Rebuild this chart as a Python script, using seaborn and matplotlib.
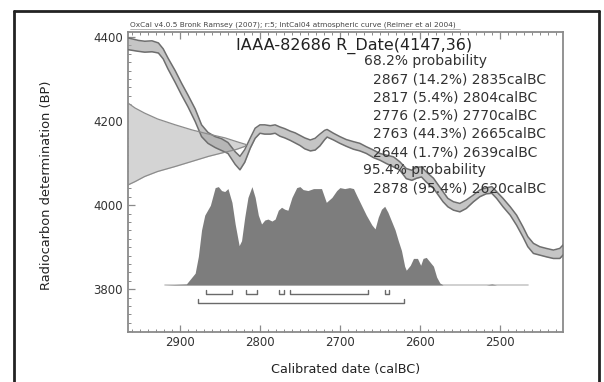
import numpy as np
import pandas as pd
import matplotlib
matplotlib.use("Agg")
import matplotlib.pyplot as plt
import seaborn as sns
from matplotlib.lines import Line2D
from matplotlib.ticker import MultipleLocator

# ---- IntCal04 calibration curve (calBC, BP, 1-sigma) ----
cal_year = [2965, 2952, 2944, 2935, 2927, 2921, 2915, 2906, 2898, 2890, 2881, 2873,
            2865, 2856, 2848, 2840, 2831, 2825, 2819, 2812, 2806, 2800, 2794, 2787,
            2781, 2775, 2769, 2762, 2756, 2750, 2744, 2737, 2731, 2725, 2719, 2716,
            2708, 2700, 2692, 2683, 2675, 2667, 2658, 2650, 2642, 2633, 2625, 2617,
            2610, 2604, 2598, 2592, 2583, 2577, 2571, 2565, 2558, 2550, 2542, 2533,
            2525, 2517, 2510, 2504, 2496, 2487, 2479, 2471, 2465, 2458, 2450, 2442,
            2433, 2425, 2419]
cal_bp = [4384, 4379, 4377, 4378, 4374, 4360, 4337, 4306, 4276, 4248, 4214, 4177,
          4160, 4150, 4144, 4136, 4112, 4100, 4117, 4148, 4171, 4181, 4180, 4179,
          4181, 4175, 4171, 4165, 4160, 4154, 4147, 4142, 4145, 4155, 4167, 4171,
          4163, 4155, 4148, 4142, 4138, 4131, 4122, 4115, 4109, 4103, 4093, 4075,
          4071, 4077, 4079, 4067, 4052, 4036, 4020, 4006, 3998, 3994, 4002, 4016,
          4028, 4034, 4036, 4024, 4006, 3986, 3964, 3936, 3913, 3897, 3891, 3887,
          3883, 3885, 3897]
cal_err = [14, 13, 13, 13, 12, 12, 13, 14, 14, 14, 15, 14,
           13, 13, 14, 13, 15, 16, 15, 12, 12, 10, 11, 10,
           10, 11, 11, 11, 12, 12, 13, 13, 14, 14, 11, 9,
           8, 8, 8, 9, 9, 8, 9, 8, 10, 12, 10, 12,
           12, 13, 12, 12, 12, 12, 12, 10, 10, 10, 10, 8,
           8, 7, 8, 8, 10, 10, 12, 12, 12, 12, 10, 10,
           10, 12, 12]

# ---- measured radiocarbon date R_Date(4147,36): relative probability ----
gauss_bp = [4243, 4231, 4219, 4205, 4191, 4179, 4169, 4160, 4150, 4144,
            4140, 4132, 4126, 4116, 4104, 4092, 4080, 4068, 4056, 4048]
gauss_prob = [0.0, 0.06, 0.14, 0.25, 0.40, 0.54, 0.68, 0.82, 0.93, 1.0,
              0.99, 0.91, 0.82, 0.68, 0.54, 0.40, 0.25, 0.14, 0.06, 0.0]

# ---- calibrated date distribution (relative probability) ----
post_year = [2919, 2892, 2881, 2877, 2873, 2869, 2862, 2856, 2852, 2848, 2844, 2840,
             2835, 2831, 2826, 2823, 2819, 2815, 2810, 2806, 2802, 2798, 2794, 2790,
             2785, 2781, 2777, 2773, 2769, 2765, 2760, 2754, 2750, 2746, 2740, 2733,
             2723, 2717, 2710, 2704, 2700, 2694, 2688, 2683, 2679, 2673, 2667, 2660,
             2656, 2652, 2648, 2644, 2640, 2635, 2631, 2627, 2623, 2619, 2617, 2612,
             2608, 2603, 2599, 2596, 2592, 2588, 2583, 2579, 2575, 2571, 2517, 2510,
             2504, 2465]
post_prob = [0.0, 0.01, 0.12, 0.29, 0.56, 0.71, 0.81, 0.99, 1.0, 0.96, 0.95, 0.98,
             0.84, 0.62, 0.40, 0.45, 0.69, 0.89, 1.0, 0.89, 0.71, 0.62, 0.66, 0.67,
             0.65, 0.67, 0.76, 0.79, 0.77, 0.76, 0.89, 0.99, 1.0, 0.97, 0.96, 0.98,
             0.98, 0.84, 0.89, 0.96, 0.99, 0.98, 0.99, 0.98, 0.91, 0.81, 0.71, 0.61,
             0.57, 0.69, 0.77, 0.80, 0.74, 0.64, 0.56, 0.45, 0.35, 0.19, 0.15, 0.20,
             0.27, 0.27, 0.20, 0.27, 0.28, 0.24, 0.19, 0.08, 0.02, 0.0, 0.0, 0.01,
             0.0, 0.0]

# ---- calibrated ranges (from, to, %) ----
range68 = [(2867, 2835, 14.2), (2817, 2804, 5.4), (2776, 2770, 2.5),
           (2763, 2665, 44.3), (2644, 2639, 1.7)]
range95 = [(2878, 2620, 95.4)]

x_ticks = [2900, 2800, 2700, 2600, 2500]
y_ticks = [3800, 4000, 4200, 4400]

title = "IAAA-82686 R_Date(4147,36)"
header = "OxCal v4.0.5 Bronk Ramsey (2007); r:5; IntCal04 atmospheric curve (Reimer et al 2004)"

sns.set_theme(style="white")
plt.rcParams['font.family'] = ['DejaVu Sans']

W, H = 604, 382
fig = plt.figure(figsize=(W / 100, H / 100), dpi=100)
fig.patch.set_facecolor("white")


def fx(px):
    return px / W


def fy(py):
    return 1 - py / H


ax = fig.add_axes([fx(128), fy(332), (563 - 128) / W, 300 / H])
ax.set_facecolor("white")
XL, XR = 2965, 2421
ax.set_xlim(XL, XR)
ax.set_ylim(3698, 4412)

# measured date on the y axis
g = pd.DataFrame({"bp": gauss_bp, "p": gauss_prob})
g["x"] = XL - g["p"] * 148
ax.fill_betweenx(g["bp"], XL, g["x"], color="#d4d4d4", lw=0, zorder=1)
ax.plot(g["x"], g["bp"], color="#8c8c8c", lw=0.9, zorder=4)

# calibration curve band
c = pd.DataFrame({"year": cal_year, "bp": cal_bp, "err": cal_err})
c["lo"] = c["bp"] - c["err"]
c["hi"] = c["bp"] + c["err"]
ax.fill_between(c["year"], c["lo"], c["hi"], color="#a6a6a6", alpha=0.65, lw=0, zorder=2)
sns.lineplot(data=c, x="year", y="lo", ax=ax, color="#6e6e6e", lw=1.1, zorder=3)
sns.lineplot(data=c, x="year", y="hi", ax=ax, color="#6e6e6e", lw=1.1, zorder=3)

# calibrated distribution
base, scale = 3810, 234
p = pd.DataFrame({"year": post_year, "p": post_prob})
p["top"] = base + p["p"] * scale
ax.plot(p["year"], [base] * len(p), color="#c8c8c8", lw=1.2, zorder=2)
ax.fill_between(p["year"], base, p["top"], color="#7d7d7d", lw=0, zorder=3)

# range brackets
for (s, e, _) in range68:
    ax.plot([s, s, e, e], [3798, 3788, 3788, 3798], color="#6a6a6a", lw=1.0, zorder=3)
for (s, e, _) in range95:
    ax.plot([s, s, e, e], [3776, 3766, 3766, 3776], color="#6a6a6a", lw=1.0, zorder=3)

# axes styling
ax.set_xticks(x_ticks)
ax.set_yticks(y_ticks)
ax.xaxis.set_minor_locator(MultipleLocator(10))
ax.yaxis.set_minor_locator(MultipleLocator(20))
ax.tick_params(axis="both", which="both", direction="in", colors="#8a8a8a",
               labelcolor="#333333", labelsize=8.5)
ax.tick_params(axis="x", which="both", top=True, bottom=True, pad=3)
ax.tick_params(axis="y", which="both", left=True, right=False, pad=3.5)
ax.tick_params(which="major", length=5, width=0.9)
ax.tick_params(which="minor", length=2.5, width=0.7)
for s in ax.spines.values():
    s.set_color("#8a8a8a")
    s.set_linewidth(1.3)
ax.set_xlabel("")
ax.set_ylabel("")
ax.grid(False)

# texts
fig.text(fx(354), fy(50), title, ha="center", va="baseline", fontsize=11.5, color="#222222")
fig.text(fx(130), fy(27), header, ha="left", va="baseline", fontsize=5.3, color="#444444")
fig.add_artist(Line2D([fx(130), fx(460)], [fy(28.5), fy(28.5)], color="#999999", lw=0.5))

lines = [("68.2% probability", 364)]
for (s, e, pc) in range68:
    lines.append((f"{s} ({pc}%) {e}calBC", 373))
lines.append(("95.4% probability", 363))
for (s, e, pc) in range95:
    lines.append((f"{s} ({pc}%) {e}calBC", 373))
for i, (t, xpx) in enumerate(lines):
    fig.text(fx(xpx), fy(61 + i * 18.2), t, ha="left", va="center", fontsize=10, color="#333333")

fig.text(fx(47), fy(185), "Radiocarbon determination (BP)", rotation=90,
         ha="center", va="center", fontsize=9.4, color="#222222")
fig.text(fx(346), fy(370), "Calibrated date (calBC)", ha="center", va="center",
         fontsize=9.2, color="#222222")

# outer frame
frame_kw = dict(color="#222222", lw=2)
fig.add_artist(Line2D([fx(14), fx(14)], [fy(11), fy(384)], **frame_kw))
fig.add_artist(Line2D([fx(14), fx(599)], [fy(11), fy(11)], **frame_kw))
fig.add_artist(Line2D([fx(599), fx(599)], [fy(11), fy(384)], **frame_kw))

fig.savefig("out.png", dpi=100, facecolor="white")
